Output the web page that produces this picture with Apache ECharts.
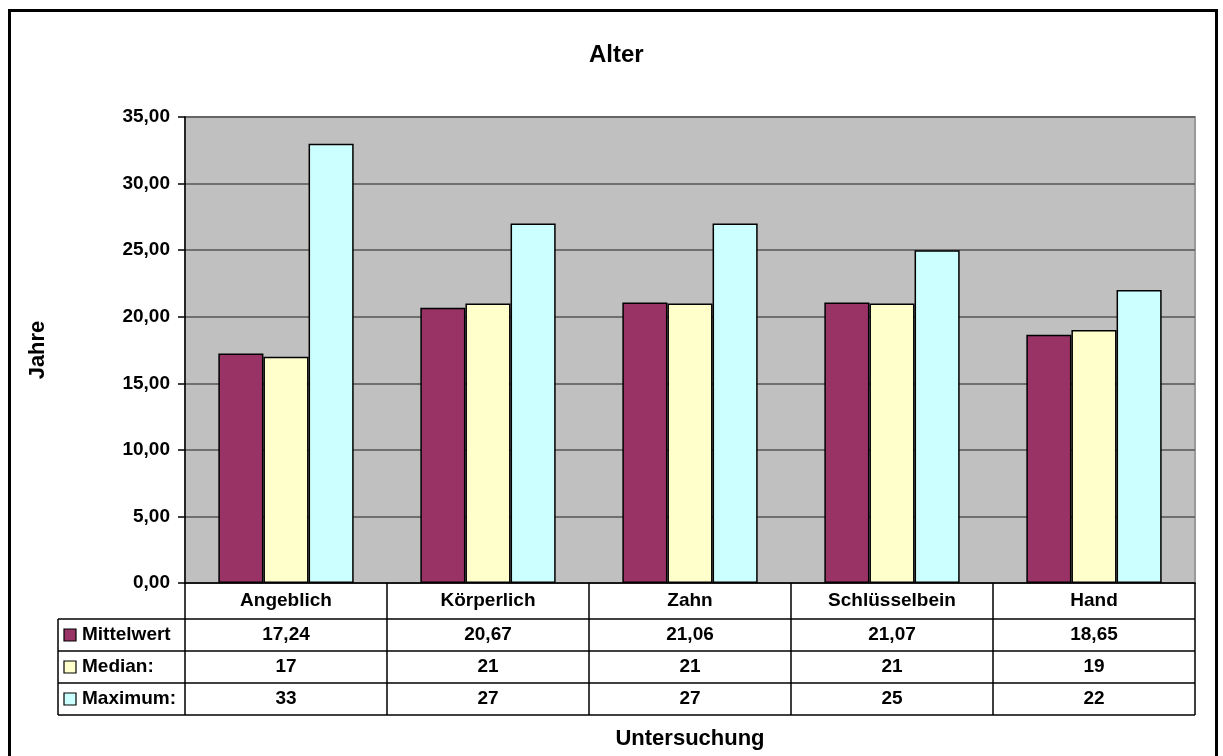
<!DOCTYPE html>
<html>
<head>
<meta charset="utf-8">
<script src="https://cdn.jsdelivr.net/npm/echarts@6/dist/echarts.min.js"></script>
<style>
  html, body { margin: 0; padding: 0; background: #fff; }
  #chart { width: 1223px; height: 756px; }
</style>
</head>
<body>
<div id="chart"></div>
<script>
// Altersangaben je Untersuchungsmethode
const categories = ['Angeblich', 'Körperlich', 'Zahn', 'Schlüsselbein', 'Hand'];
const seriesNames = ['Mittelwert', 'Median:', 'Maximum:'];
const mittelwert = [17.24, 20.67, 21.06, 21.07, 18.65];
const median = [17, 21, 21, 21, 19];
const maximum = [33, 27, 27, 25, 22];
const yTicks = { min: 0, max: 35, interval: 5 };

const colors = ['#993366', '#FFFFCC', '#CCFFFF'];
const seriesData = [mittelwert, median, maximum];
const FONT = '"Liberation Sans", Arial, sans-serif';

const GRID = { left: 185, top: 117, right: 28, bottom: 173 };
const ROW_H = 32;
const HEADER_H = 36;
const LEGEND_COL_X = 58;

const chart = echarts.init(document.getElementById('chart'), null, { renderer: 'canvas' });

const fmtComma = (v, digits) => {
  const s = digits == null ? String(v) : v.toFixed(digits);
  return s.replace('.', ',');
};
// Mittelwert shown with two decimals, others as integers
const cellText = (si, v) => si === 0 ? fmtComma(v, 2) : fmtComma(v);

chart.setOption({
  backgroundColor: '#ffffff',
  animation: false,
  title: {
    text: 'Alter',
    left: 584,
    top: 38,
    textStyle: { fontFamily: FONT, fontWeight: 'bold', fontSize: 24, color: '#000' }
  },
  grid: {
    left: GRID.left, top: GRID.top, right: GRID.right, bottom: GRID.bottom,
    show: true, backgroundColor: '#C0C0C0', borderColor: '#9a9a9a', borderWidth: 2
  },
  xAxis: {
    type: 'category',
    data: categories,
    axisLine: { show: true, lineStyle: { color: '#000', width: 1.5 } },
    axisTick: {
      show: true, inside: false, length: HEADER_H + 3 * ROW_H,
      lineStyle: { color: '#000', width: 1.5 }
    },
    axisLabel: {
      margin: 8,
      fontFamily: FONT, fontWeight: 'bold', fontSize: 19, color: '#000'
    },
    name: 'Untersuchung',
    nameLocation: 'middle',
    nameGap: 145,
    nameTextStyle: { fontFamily: FONT, fontWeight: 'bold', fontSize: 22, color: '#000' }
  },
  yAxis: {
    type: 'value',
    min: yTicks.min, max: yTicks.max, interval: yTicks.interval,
    axisLine: { show: true, lineStyle: { color: '#000', width: 1.5 } },
    axisTick: { show: true, length: 7, lineStyle: { color: '#000', width: 1.5 } },
    splitLine: { show: true, lineStyle: { color: '#555', width: 1.6 } },
    axisLabel: {
      margin: 15,
      formatter: v => fmtComma(v, 2),
      fontFamily: FONT, fontWeight: 'bold', fontSize: 19, color: '#000'
    },
    name: 'Jahre',
    nameLocation: 'middle',
    nameRotate: 90,
    nameGap: 136,
    nameTextStyle: { fontFamily: FONT, fontWeight: 'bold', fontSize: 22, color: '#000' }
  },
  series: seriesNames.map((name, i) => ({
    name,
    type: 'bar',
    data: seriesData[i],
    barGap: '0%',
    barCategoryGap: '33%',
    itemStyle: { color: colors[i], borderColor: '#000', borderWidth: 1.5 }
  }))
});

// Data table under the plot: legend column, horizontal rules, cell values
function drawTable() {
  const elements = [];
  const plotRight = 1223 - GRID.right;
  const tableTop = 756 - GRID.bottom + HEADER_H;
  const lineStyle = { stroke: '#000', lineWidth: 1.5 };

  for (let r = 0; r <= 3; r++) {
    const y = tableTop + r * ROW_H;
    elements.push({
      type: 'line', shape: { x1: LEGEND_COL_X, y1: y, x2: plotRight, y2: y },
      style: lineStyle, z: 10
    });
  }
  elements.push({
    type: 'line',
    shape: { x1: LEGEND_COL_X, y1: tableTop, x2: LEGEND_COL_X, y2: tableTop + 3 * ROW_H },
    style: lineStyle, z: 10
  });

  seriesNames.forEach((name, si) => {
    const cy = tableTop + si * ROW_H + ROW_H / 2;
    elements.push({
      type: 'rect', shape: { x: 64, y: cy - 6, width: 12, height: 12 },
      style: { fill: colors[si], stroke: '#000', lineWidth: 1.2 }, z: 10
    });
    elements.push({
      type: 'text', x: 82, y: cy,
      style: {
        text: name, fill: '#000', font: 'bold 19px ' + FONT,
        textAlign: 'left', textVerticalAlign: 'middle'
      }, z: 10
    });
    seriesData[si].forEach((v, ci) => {
      const cx = chart.convertToPixel({ xAxisIndex: 0 }, categories[ci]);
      elements.push({
        type: 'text', x: cx, y: cy,
        style: {
          text: cellText(si, v), fill: '#000', font: 'bold 19px ' + FONT,
          textAlign: 'center', textVerticalAlign: 'middle'
        }, z: 10
      });
    });
  });

  // outer chart frame
  elements.push({
    type: 'rect', shape: { x: 9.5, y: 10.5, width: 1207, height: 800 },
    style: { fill: 'none', stroke: '#000', lineWidth: 3 }, z: 20
  });

  chart.setOption({ graphic: { elements } });
}
drawTable();
</script>
</body>
</html>
